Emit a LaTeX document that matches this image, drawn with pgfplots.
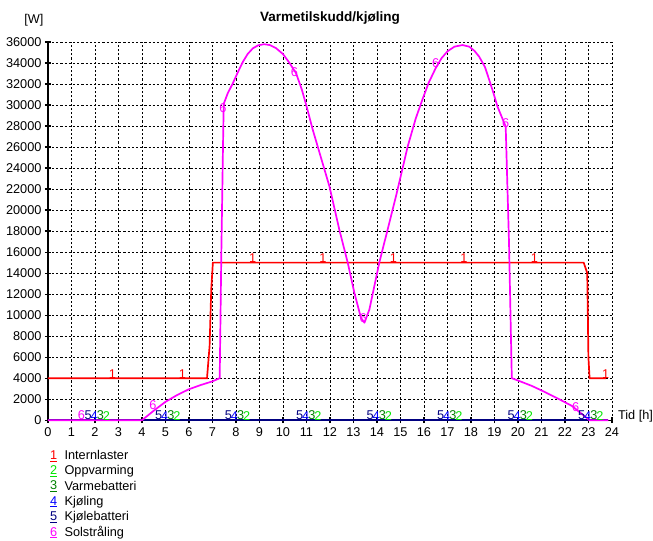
\documentclass[border=0pt]{standalone}
\usepackage{pgfplots}
\pgfplotsset{compat=1.18}
\usepackage{fontspec}
\setmainfont{Liberation Sans}
\definecolor{c1}{RGB}{255,0,0}
\definecolor{c2}{RGB}{0,230,0}
\definecolor{c3}{RGB}{0,128,0}
\definecolor{c4}{RGB}{0,0,255}
\definecolor{c5}{RGB}{0,0,128}
\definecolor{c6}{RGB}{255,0,255}
\newcommand{\fs}{\fontsize{12.8}{14}\selectfont}
\newcommand{\limg}[2]{\node[draw=none,fill=none,anchor=west,inner sep=0pt] at (0,0) {\makebox[12.5bp][l]{\textcolor{#1}{\underline{#2}}}};}
\begin{document}
\fs
\begin{tikzpicture}
\begin{axis}[
  scale only axis, width=565bp, height=379bp,
  xmin=0, xmax=24, ymin=0, ymax=36000,
  xtick={0,1,...,24}, ytick={0,2000,...,36000},
  axis x line=bottom, axis y line=left,
  axis line style={-, black, line width=1.4bp},
  grid=major,
  grid style={black, line width=0.75bp, dash pattern=on 2.2bp off 2bp},
  tick align=center, major tick length=6bp,
  tick style={black, line width=1.2bp},
  ticklabel style={font=\fs},
  /pgf/number format/assume math mode=true,
  scaled y ticks=false,
  yticklabel style={/pgf/number format/1000 sep={}, xshift=1bp},
  clip=false,
  legend cell align=left,
  legend style={at={(rel axis cs:0,0)}, anchor=north west, xshift=2bp, yshift=-28bp,
    draw=none, fill=none, font=\fs, inner sep=0pt, row sep=0.1bp,
    /tikz/every even column/.append style={column sep=0bp}},
]
\addplot[c1, line width=1.7bp, legend image code/.code={\limg{c1}{1}}] coordinates {
 (0,4000) (6.77,4000) (6.88,7060) (6.95,12440) (7.02,15000) (22.8,15000) (22.95,14000) (23.0,6000) (23.05,4000) (23.75,4000)};
\addlegendentry{Internlaster}
\addplot[c2, line width=1.7bp, legend image code/.code={\limg{c2}{2}}] coordinates {(0,0) (23.85,0)};
\addlegendentry{Oppvarming}
\addplot[c3, line width=1.7bp, legend image code/.code={\limg{c3}{3}}] coordinates {(0,0) (23.85,0)};
\addlegendentry{Varmebatteri}
\addplot[c4, line width=1.7bp, legend image code/.code={\limg{c4}{4}}] coordinates {(0,0) (23.85,0)};
\addlegendentry{Kjøling}
\addplot[c5, line width=1.7bp, legend image code/.code={\limg{c5}{5}}] coordinates {(0,0) (23.85,0)};
\addlegendentry{Kjølebatteri}
\addplot[c6, line width=1.7bp, line join=round, legend image code/.code={\limg{c6}{6}}] coordinates {
 (0,0) (4,0) (4.5,900) (5,1750) (5.5,2400) (6,2950) (6.5,3350) (7,3700) (7.31,4000)
 (7.38,16000) (7.45,26000) (7.48,30100) (7.65,31100) (7.87,32070) (8.1,33200) (8.3,34120)
 (8.5,34850) (8.72,35390) (8.95,35680) (9.2,35780) (9.45,35700) (9.7,35420) (10.0,34850)
 (10.28,34000) (10.56,33020) (10.8,31500) (10.99,30010) (11.27,27640) (11.48,26050)
 (11.98,22250) (12.4,18140) (12.76,14980) (13.04,12130) (13.32,9750) (13.47,9280)
 (13.68,10540) (14.1,14980) (14.81,21300) (15.31,26050) (15.65,28700) (15.93,30480)
 (16.2,32100) (16.5,33500) (16.75,34450) (17.0,35100) (17.3,35550) (17.64,35700)
 (17.93,35550) (18.15,35150) (18.35,34600) (18.6,33600) (18.78,32380) (18.95,31200) (19.13,29850)
 (19.48,27950) (19.62,17000) (19.74,4000) (20.1,3700) (20.6,3260) (21.18,2650) (21.8,1950)
 (22.3,1360) (23.05,0) (23.85,0)};
\addlegendentry{Solstråling}
% curve number labels
\node[c1,anchor=south,inner sep=0pt] at (axis cs:2.75,4000) {1};
\node[c1,anchor=south,inner sep=0pt] at (axis cs:5.72,4000) {1};
\node[c1,anchor=south,inner sep=0pt] at (axis cs:8.71,15000) {1};
\node[c1,anchor=south,inner sep=0pt] at (axis cs:11.7,15000) {1};
\node[c1,anchor=south,inner sep=0pt] at (axis cs:14.7,15000) {1};
\node[c1,anchor=south,inner sep=0pt] at (axis cs:17.7,15000) {1};
\node[c1,anchor=south,inner sep=0pt] at (axis cs:20.7,15000) {1};
\node[c1,anchor=south,inner sep=0pt] at (axis cs:23.73,4000) {1};
\node[c6,anchor=south,inner sep=0pt] at (axis cs:1.43,0) {6};
\node[c6,anchor=south,inner sep=0pt] at (axis cs:4.47,1000) {6};
\node[c6,anchor=south,inner sep=0pt] at (axis cs:7.45,29300) {6};
\node[c6,anchor=south,inner sep=0pt] at (axis cs:10.49,32700) {6};
\node[c6,anchor=south,inner sep=0pt] at (axis cs:13.42,9300) {6};
\node[c6,anchor=south,inner sep=0pt] at (axis cs:16.5,33500) {6};
\node[c6,anchor=south,inner sep=0pt] at (axis cs:19.48,27800) {6};
\node[c6,anchor=south,inner sep=0pt] at (axis cs:22.46,800) {6};
% 5 4 3 2 labels at zero
\node[c5,anchor=south,inner sep=0pt] at (axis cs:1.71,0) {5};
\node[c4,anchor=south,inner sep=0pt] at (axis cs:1.97,0) {4};
\node[c3,anchor=south,inner sep=0pt] at (axis cs:2.23,0) {3};
\node[c2,anchor=south,inner sep=0pt] at (axis cs:2.49,0) {2};
\node[c5,anchor=south,inner sep=0pt] at (axis cs:4.71,0) {5};
\node[c4,anchor=south,inner sep=0pt] at (axis cs:4.97,0) {4};
\node[c3,anchor=south,inner sep=0pt] at (axis cs:5.23,0) {3};
\node[c2,anchor=south,inner sep=0pt] at (axis cs:5.49,0) {2};
\node[c5,anchor=south,inner sep=0pt] at (axis cs:7.68,0) {5};
\node[c4,anchor=south,inner sep=0pt] at (axis cs:7.94,0) {4};
\node[c3,anchor=south,inner sep=0pt] at (axis cs:8.2,0) {3};
\node[c2,anchor=south,inner sep=0pt] at (axis cs:8.46,0) {2};
\node[c5,anchor=south,inner sep=0pt] at (axis cs:10.71,0) {5};
\node[c4,anchor=south,inner sep=0pt] at (axis cs:10.97,0) {4};
\node[c3,anchor=south,inner sep=0pt] at (axis cs:11.23,0) {3};
\node[c2,anchor=south,inner sep=0pt] at (axis cs:11.49,0) {2};
\node[c5,anchor=south,inner sep=0pt] at (axis cs:13.71,0) {5};
\node[c4,anchor=south,inner sep=0pt] at (axis cs:13.97,0) {4};
\node[c3,anchor=south,inner sep=0pt] at (axis cs:14.23,0) {3};
\node[c2,anchor=south,inner sep=0pt] at (axis cs:14.49,0) {2};
\node[c5,anchor=south,inner sep=0pt] at (axis cs:16.71,0) {5};
\node[c4,anchor=south,inner sep=0pt] at (axis cs:16.97,0) {4};
\node[c3,anchor=south,inner sep=0pt] at (axis cs:17.23,0) {3};
\node[c2,anchor=south,inner sep=0pt] at (axis cs:17.49,0) {2};
\node[c5,anchor=south,inner sep=0pt] at (axis cs:19.71,0) {5};
\node[c4,anchor=south,inner sep=0pt] at (axis cs:19.97,0) {4};
\node[c3,anchor=south,inner sep=0pt] at (axis cs:20.23,0) {3};
\node[c2,anchor=south,inner sep=0pt] at (axis cs:20.49,0) {2};
\node[c5,anchor=south,inner sep=0pt] at (axis cs:22.71,0) {5};
\node[c4,anchor=south,inner sep=0pt] at (axis cs:22.97,0) {4};
\node[c3,anchor=south,inner sep=0pt] at (axis cs:23.23,0) {3};
\node[c2,anchor=south,inner sep=0pt] at (axis cs:23.49,0) {2};
% title and axis labels
\node[font=\fontsize{13.6}{15}\selectfont\bfseries] at (rel axis cs:0.5,1) [yshift=24bp] {Varmetilskudd/kjøling};
\node at (rel axis cs:0,1) [xshift=-14bp, yshift=22bp] {[W]};
\node[anchor=west, inner sep=0pt] at (axis cs:24,0) [xshift=6bp, yshift=4bp] {Tid [h]};
\coordinate (bl) at (rel axis cs:0,0);
\coordinate (tr) at (rel axis cs:1,1);
\end{axis}
\path ([shift={(-48bp,-116bp)}]bl) rectangle ([shift={(40bp,42bp)}]tr);
\end{tikzpicture}
\end{document}
